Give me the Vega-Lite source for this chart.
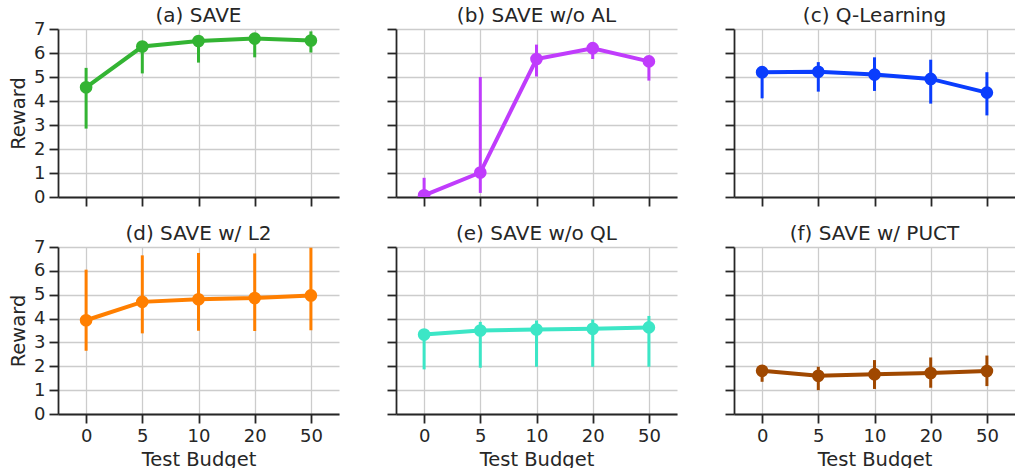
{
  "$schema": "https://vega.github.io/schema/vega-lite/v6.json",
  "padding": {"left": 8, "top": 6, "right": 0, "bottom": 0},
  "background": "white",
  "datasets": {
    "rows": [
      {"panel": "a", "budget": "0", "mean": 4.57, "lo": 2.85, "hi": 5.38},
      {"panel": "a", "budget": "5", "mean": 6.27, "lo": 5.15, "hi": 6.4},
      {"panel": "a", "budget": "10", "mean": 6.5, "lo": 5.6, "hi": 6.65},
      {"panel": "a", "budget": "20", "mean": 6.6, "lo": 5.82, "hi": 6.72},
      {"panel": "a", "budget": "50", "mean": 6.52, "lo": 6.02, "hi": 6.9},
      {"panel": "b", "budget": "0", "mean": 0.07, "lo": 0.0, "hi": 0.8},
      {"panel": "b", "budget": "5", "mean": 1.02, "lo": 0.17, "hi": 5.0},
      {"panel": "b", "budget": "10", "mean": 5.75, "lo": 5.02, "hi": 6.35},
      {"panel": "b", "budget": "20", "mean": 6.2, "lo": 5.75, "hi": 6.38},
      {"panel": "b", "budget": "50", "mean": 5.65, "lo": 4.85, "hi": 5.8},
      {"panel": "c", "budget": "0", "mean": 5.2, "lo": 4.11, "hi": 5.3},
      {"panel": "c", "budget": "5", "mean": 5.22, "lo": 4.39, "hi": 5.62},
      {"panel": "c", "budget": "10", "mean": 5.1, "lo": 4.42, "hi": 5.82},
      {"panel": "c", "budget": "20", "mean": 4.92, "lo": 3.89, "hi": 5.72},
      {"panel": "c", "budget": "50", "mean": 4.35, "lo": 3.4, "hi": 5.2},
      {"panel": "d", "budget": "0", "mean": 3.93, "lo": 2.65, "hi": 6.05},
      {"panel": "d", "budget": "5", "mean": 4.7, "lo": 3.38, "hi": 6.65},
      {"panel": "d", "budget": "10", "mean": 4.81, "lo": 3.49, "hi": 6.75},
      {"panel": "d", "budget": "20", "mean": 4.86, "lo": 3.48, "hi": 6.73},
      {"panel": "d", "budget": "50", "mean": 4.97, "lo": 3.51, "hi": 6.97},
      {"panel": "e", "budget": "0", "mean": 3.33, "lo": 1.87, "hi": 3.5},
      {"panel": "e", "budget": "5", "mean": 3.5, "lo": 1.94, "hi": 3.86},
      {"panel": "e", "budget": "10", "mean": 3.54, "lo": 1.98, "hi": 3.92},
      {"panel": "e", "budget": "20", "mean": 3.57, "lo": 1.98, "hi": 3.96},
      {"panel": "e", "budget": "50", "mean": 3.63, "lo": 1.98, "hi": 4.11},
      {"panel": "f", "budget": "0", "mean": 1.81, "lo": 1.35, "hi": 1.9},
      {"panel": "f", "budget": "5", "mean": 1.6, "lo": 1.0, "hi": 1.98},
      {"panel": "f", "budget": "10", "mean": 1.67, "lo": 1.05, "hi": 2.26},
      {"panel": "f", "budget": "20", "mean": 1.72, "lo": 1.1, "hi": 2.37},
      {"panel": "f", "budget": "50", "mean": 1.8, "lo": 1.17, "hi": 2.45}
    ]
  },
  "data": {"name": "rows"},
  "columns": 3,
  "spacing": {"row": 50, "column": 57},
  "bounds": "flush",
  "concat": [
    {
      "title": "(a) SAVE", "width": 281, "height": 168,
      "transform": [{"filter": "datum.panel == 'a'"}],
      "encoding": {
        "x": {"field": "budget", "type": "ordinal", "sort": ["0", "5", "10", "20", "50"], "scale": {"type": "point", "padding": 0.5}, "axis": {"labels": false, "title": null}},
        "color": {"field": "panel", "type": "nominal", "scale": {"domain": ["a", "b", "c", "d", "e", "f"], "range": ["#33b433", "#c03cfc", "#0a3dfd", "#ff7f00", "#3ce6c6", "#a04800"]}, "legend": null}
      },
      "layer": [
        {"mark": {"type": "rule", "strokeWidth": 3}, "encoding": {"y": {"field": "lo", "type": "quantitative", "scale": {"domain": [0, 7], "nice": false}, "axis": {"title": "Reward", "values": [0, 1, 2, 3, 4, 5, 6, 7]}}, "y2": {"field": "hi"}}},
        {"mark": {"type": "line", "strokeWidth": 4}, "encoding": {"y": {"field": "mean", "type": "quantitative", "axis": {"title": "Reward", "values": [0, 1, 2, 3, 4, 5, 6, 7]}}}},
        {"mark": {"type": "point", "filled": true, "size": 160, "opacity": 1, "clip": true}, "encoding": {"y": {"field": "mean", "type": "quantitative", "axis": {"title": "Reward", "values": [0, 1, 2, 3, 4, 5, 6, 7]}}}}
      ]
    },
    {
      "title": "(b) SAVE w/o AL", "width": 281, "height": 168,
      "transform": [{"filter": "datum.panel == 'b'"}],
      "encoding": {
        "x": {"field": "budget", "type": "ordinal", "sort": ["0", "5", "10", "20", "50"], "scale": {"type": "point", "padding": 0.5}, "axis": {"labels": false, "title": null}},
        "color": {"field": "panel", "type": "nominal", "legend": null}
      },
      "layer": [
        {"mark": {"type": "rule", "strokeWidth": 3}, "encoding": {"y": {"field": "lo", "type": "quantitative", "scale": {"domain": [0, 7], "nice": false}, "axis": {"title": null, "labelOpacity": 0, "values": [0, 1, 2, 3, 4, 5, 6, 7]}}, "y2": {"field": "hi"}}},
        {"mark": {"type": "line", "strokeWidth": 4}, "encoding": {"y": {"field": "mean", "type": "quantitative", "axis": {"title": null, "labelOpacity": 0, "values": [0, 1, 2, 3, 4, 5, 6, 7]}}}},
        {"mark": {"type": "point", "filled": true, "size": 160, "opacity": 1, "clip": true}, "encoding": {"y": {"field": "mean", "type": "quantitative", "axis": {"title": null, "labelOpacity": 0, "values": [0, 1, 2, 3, 4, 5, 6, 7]}}}}
      ]
    },
    {
      "title": "(c) Q-Learning", "width": 281, "height": 168,
      "transform": [{"filter": "datum.panel == 'c'"}],
      "encoding": {
        "x": {"field": "budget", "type": "ordinal", "sort": ["0", "5", "10", "20", "50"], "scale": {"type": "point", "padding": 0.5}, "axis": {"labels": false, "title": null}},
        "color": {"field": "panel", "type": "nominal", "legend": null}
      },
      "layer": [
        {"mark": {"type": "rule", "strokeWidth": 3}, "encoding": {"y": {"field": "lo", "type": "quantitative", "scale": {"domain": [0, 7], "nice": false}, "axis": {"title": null, "labelOpacity": 0, "values": [0, 1, 2, 3, 4, 5, 6, 7]}}, "y2": {"field": "hi"}}},
        {"mark": {"type": "line", "strokeWidth": 4}, "encoding": {"y": {"field": "mean", "type": "quantitative", "axis": {"title": null, "labelOpacity": 0, "values": [0, 1, 2, 3, 4, 5, 6, 7]}}}},
        {"mark": {"type": "point", "filled": true, "size": 160, "opacity": 1, "clip": true}, "encoding": {"y": {"field": "mean", "type": "quantitative", "axis": {"title": null, "labelOpacity": 0, "values": [0, 1, 2, 3, 4, 5, 6, 7]}}}}
      ]
    },
    {
      "title": "(d) SAVE w/ L2", "width": 281, "height": 167,
      "transform": [{"filter": "datum.panel == 'd'"}],
      "encoding": {
        "x": {"field": "budget", "type": "ordinal", "sort": ["0", "5", "10", "20", "50"], "scale": {"type": "point", "padding": 0.5}, "axis": {"title": "Test Budget", "labelAngle": 0}},
        "color": {"field": "panel", "type": "nominal", "legend": null}
      },
      "layer": [
        {"mark": {"type": "rule", "strokeWidth": 3}, "encoding": {"y": {"field": "lo", "type": "quantitative", "scale": {"domain": [0, 7], "nice": false}, "axis": {"title": "Reward", "values": [0, 1, 2, 3, 4, 5, 6, 7]}}, "y2": {"field": "hi"}}},
        {"mark": {"type": "line", "strokeWidth": 4}, "encoding": {"y": {"field": "mean", "type": "quantitative", "axis": {"title": "Reward", "values": [0, 1, 2, 3, 4, 5, 6, 7]}}}},
        {"mark": {"type": "point", "filled": true, "size": 160, "opacity": 1, "clip": true}, "encoding": {"y": {"field": "mean", "type": "quantitative", "axis": {"title": "Reward", "values": [0, 1, 2, 3, 4, 5, 6, 7]}}}}
      ]
    },
    {
      "title": "(e) SAVE w/o QL", "width": 281, "height": 167,
      "transform": [{"filter": "datum.panel == 'e'"}],
      "encoding": {
        "x": {"field": "budget", "type": "ordinal", "sort": ["0", "5", "10", "20", "50"], "scale": {"type": "point", "padding": 0.5}, "axis": {"title": "Test Budget", "labelAngle": 0}},
        "color": {"field": "panel", "type": "nominal", "legend": null}
      },
      "layer": [
        {"mark": {"type": "rule", "strokeWidth": 3}, "encoding": {"y": {"field": "lo", "type": "quantitative", "scale": {"domain": [0, 7], "nice": false}, "axis": {"title": null, "labelOpacity": 0, "values": [0, 1, 2, 3, 4, 5, 6, 7]}}, "y2": {"field": "hi"}}},
        {"mark": {"type": "line", "strokeWidth": 4}, "encoding": {"y": {"field": "mean", "type": "quantitative", "axis": {"title": null, "labelOpacity": 0, "values": [0, 1, 2, 3, 4, 5, 6, 7]}}}},
        {"mark": {"type": "point", "filled": true, "size": 160, "opacity": 1, "clip": true}, "encoding": {"y": {"field": "mean", "type": "quantitative", "axis": {"title": null, "labelOpacity": 0, "values": [0, 1, 2, 3, 4, 5, 6, 7]}}}}
      ]
    },
    {
      "title": "(f) SAVE w/ PUCT", "width": 281, "height": 167,
      "transform": [{"filter": "datum.panel == 'f'"}],
      "encoding": {
        "x": {"field": "budget", "type": "ordinal", "sort": ["0", "5", "10", "20", "50"], "scale": {"type": "point", "padding": 0.5}, "axis": {"title": "Test Budget", "labelAngle": 0}},
        "color": {"field": "panel", "type": "nominal", "legend": null}
      },
      "layer": [
        {"mark": {"type": "rule", "strokeWidth": 3}, "encoding": {"y": {"field": "lo", "type": "quantitative", "scale": {"domain": [0, 7], "nice": false}, "axis": {"title": null, "labelOpacity": 0, "values": [0, 1, 2, 3, 4, 5, 6, 7]}}, "y2": {"field": "hi"}}},
        {"mark": {"type": "line", "strokeWidth": 4}, "encoding": {"y": {"field": "mean", "type": "quantitative", "axis": {"title": null, "labelOpacity": 0, "values": [0, 1, 2, 3, 4, 5, 6, 7]}}}},
        {"mark": {"type": "point", "filled": true, "size": 160, "opacity": 1, "clip": true}, "encoding": {"y": {"field": "mean", "type": "quantitative", "axis": {"title": null, "labelOpacity": 0, "values": [0, 1, 2, 3, 4, 5, 6, 7]}}}}
      ]
    }
  ],
  "config": {
    "view": {"stroke": null},
    "font": "DejaVu Sans",
    "axis": {
      "domainColor": "#262626", "domainWidth": 1.8,
      "tickColor": "#262626", "tickWidth": 1.8, "tickSize": 9,
      "labelFont": "DejaVu Sans", "labelFontSize": 18, "labelColor": "#262626", "labelPadding": 4,
      "titleFont": "DejaVu Sans", "titleFontSize": 19.5, "titleColor": "#262626", "titleFontWeight": "normal", "titlePadding": 5,
      "gridColor": "#cccccc", "gridWidth": 1.3, "grid": true
    },
    "title": {"font": "DejaVu Sans", "fontSize": 20, "fontWeight": "normal", "color": "#262626", "offset": -6, "frame": "group", "anchor": "middle", "baseline": "alphabetic"}
  }
}
